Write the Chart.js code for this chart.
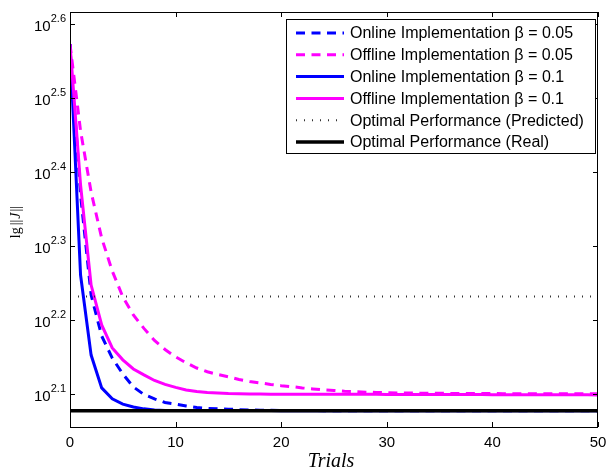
<!DOCTYPE html>
<html>
<head>
<meta charset="utf-8">
<script src="https://cdn.jsdelivr.net/npm/chart.js@4.4.1/dist/chart.umd.min.js"></script>
<style>
  html, body { margin:0; padding:0; background:#fff; }
  #wrap { width:606px; height:468px; position:relative; }
</style>
</head>
<body>
<div id="wrap"><canvas id="chart"></canvas></div>
<script>
// trial index on x, ||J|| on a log y axis
const trials = Array.from({ length: 51 }, (_, i) => i);

const onlineB005 = [
  374, 233.9, 171.3, 150.8, 140.8, 134.0, 128.7, 125.7, 124.0, 122.6,
  122.0, 121.3, 120.7, 120.4, 120.2, 120.1, 119.9, 119.8, 119.7, 119.7,
  119.6, 119.6, 119.6, 119.6, 119.5, 119.5, 119.5, 119.5, 119.5, 119.5,
  119.5, 119.5, 119.5, 119.5, 119.5, 119.5, 119.5, 119.5, 119.5, 119.5,
  119.5, 119.5, 119.5, 119.5, 119.5, 119.5, 119.5, 119.5, 119.5, 119.5,
  119.5
];
const offlineB005 = [
  374, 285.4, 236.0, 204.5, 184.6, 170.3, 161.0, 154.4, 148.7, 144.6,
  141.3, 138.7, 136.5, 134.9, 133.8, 132.8, 131.7, 130.9, 130.3, 129.7,
  129.2, 128.8, 128.3, 127.9, 127.5, 127.3, 127.0, 126.8, 126.6, 126.5,
  126.4, 126.3, 126.3, 126.2, 126.2, 126.2, 126.1, 126.1, 126.1, 126.1,
  126.1, 126.0, 126.0, 126.0, 126.0, 126.0, 126.0, 126.0, 126.0, 126.0,
  126.0
];
const onlineB01 = [
  374, 182.3, 142.1, 128.3, 124.0, 122.0, 120.9, 120.2, 119.8, 119.6,
  119.6, 119.6, 119.6, 119.6, 119.6, 119.6, 119.6, 119.6, 119.6, 119.6,
  119.5, 119.5, 119.5, 119.5, 119.5, 119.5, 119.5, 119.5, 119.5, 119.5,
  119.5, 119.5, 119.5, 119.5, 119.5, 119.5, 119.5, 119.5, 119.5, 119.5,
  119.5, 119.5, 119.5, 119.5, 119.5, 119.5, 119.5, 119.5, 119.5, 119.5,
  119.5
];
const offlineB01 = [
  374, 241.2, 176.7, 156.1, 145.3, 140.0, 136.1, 133.6, 131.3, 129.7,
  128.5, 127.5, 126.9, 126.5, 126.3, 126.1, 126.0, 125.9, 125.9, 125.8,
  125.8, 125.8, 125.8, 125.8, 125.8, 125.8, 125.8, 125.8, 125.8, 125.8,
  125.7, 125.7, 125.7, 125.7, 125.7, 125.7, 125.7, 125.7, 125.7, 125.7,
  125.6, 125.6, 125.6, 125.6, 125.6, 125.6, 125.6, 125.6, 125.6, 125.6,
  125.5
];
const optimalPredicted = 170.5;
const optimalReal = 119.5;

const xTicks = [0, 10, 20, 30, 40, 50];
const yTickExps = ['2.1', '2.2', '2.3', '2.4', '2.5', '2.6'];
const yLimits = [2.0554, 2.6162];   // log10 of axis range

const seriesLabels = [
  'Online Implementation \u03B2 = 0.05',
  'Offline Implementation \u03B2 = 0.05',
  'Online Implementation \u03B2 = 0.1',
  'Offline Implementation \u03B2 = 0.1',
  'Optimal Performance (Predicted)',
  'Optimal Performance (Real)'
];

const BLUE = '#0000ff', MAG = '#ff00ff';
const SANS = '"Liberation Sans", Arial, sans-serif';
const SERIF = '"Liberation Serif", "Times New Roman", serif';

const pts = vals => vals.map((v, i) => ({ x: trials[i], y: v }));
const flat = v => [{ x: trials[0], y: v }, { x: trials[trials.length - 1], y: v }];

function ds(label, data, color, width, dash, order) {
  return { label, data, borderColor: color, backgroundColor: color, borderWidth: width,
    borderDash: dash, borderDashOffset: 0, pointRadius: 0, tension: 0, fill: false, order };
}

const datasets = [
  ds(seriesLabels[0], pts(onlineB005), BLUE, 3, [9, 6.5], 5),
  ds(seriesLabels[1], pts(offlineB005), MAG, 3, [9, 6.5], 4),
  ds(seriesLabels[2], pts(onlineB01), BLUE, 3, [], 3),
  ds(seriesLabels[3], pts(offlineB01), MAG, 3, [], 2),
  ds(seriesLabels[4], flat(optimalPredicted), '#333', 2, [1, 7], 1),
  ds(seriesLabels[5], flat(optimalReal), '#000', 3.5, [], 0)
];

// box, inward ticks, 10^x labels, axis titles and legend, MATLAB style
const frame = {
  id: 'frame',
  afterDraw(chart) {
    const { ctx, chartArea: a, scales: { x, y } } = chart;
    ctx.save();
    ctx.strokeStyle = '#000';
    ctx.lineWidth = 1;
    ctx.strokeRect(a.left + 0.5, a.top + 0.5, a.right - a.left - 1, a.bottom - a.top);

    ctx.beginPath();
    xTicks.forEach(v => {
      const px = Math.round(x.getPixelForValue(v)) + 0.5;
      ctx.moveTo(px, a.bottom); ctx.lineTo(px, a.bottom - 5);
      ctx.moveTo(px, a.top); ctx.lineTo(px, a.top + 5);
    });
    yTickExps.forEach(e => {
      const py = Math.round(y.getPixelForValue(Math.pow(10, +e))) + 0.5;
      ctx.moveTo(a.left, py); ctx.lineTo(a.left + 5, py);
      ctx.moveTo(a.right, py); ctx.lineTo(a.right - 5, py);
    });
    ctx.stroke();

    ctx.fillStyle = '#000';
    ctx.textBaseline = 'alphabetic';
    // x tick labels
    ctx.font = '15px ' + SANS;
    ctx.textAlign = 'center';
    xTicks.forEach(v => ctx.fillText(String(v), x.getPixelForValue(v), a.bottom + 20));
    // y tick labels 10^e
    yTickExps.forEach(e => {
      const py = y.getPixelForValue(Math.pow(10, +e));
      ctx.font = '11px ' + SANS;
      ctx.textAlign = 'right';
      const ew = ctx.measureText(e).width;
      const right = a.left - 4;
      ctx.fillText(e, right, py - 2);
      ctx.font = '15px ' + SANS;
      ctx.fillText('10', right - ew, py + 7);
    });

    // x title
    ctx.font = 'italic 20px ' + SERIF;
    ctx.textAlign = 'center';
    ctx.fillText('Trials', (a.left + a.right) / 2 - 3, a.bottom + 40);

    // y title: lg ||J||
    ctx.save();
    ctx.translate(20, 222);
    ctx.rotate(-Math.PI / 2);
    const parts = [['lg', '14px ' + SERIF, 2], ['||', '14px ' + SERIF, 1], ['J', 'italic 14px ' + SERIF, 1], ['||', '14px ' + SERIF, 0]];
    let total = 0;
    parts.forEach(([t, f, g]) => { ctx.font = f; total += ctx.measureText(t).width + g; });
    let cx = -total / 2;
    ctx.textAlign = 'left';
    parts.forEach(([t, f, g]) => { ctx.font = f; ctx.fillText(t, cx, 0); cx += ctx.measureText(t).width + g; });
    ctx.restore();

    // legend
    const bx = a.right - 312, by = a.top + 7, bw = 309, bh = 134;
    ctx.fillStyle = '#fff';
    ctx.fillRect(bx, by, bw, bh);
    ctx.strokeStyle = '#000';
    ctx.lineWidth = 1;
    ctx.strokeRect(bx + 0.5, by + 0.5, bw, bh);
    ctx.font = '16px ' + SANS;
    ctx.textAlign = 'left';
    ctx.textBaseline = 'middle';
    chart.data.datasets.forEach((d, i) => {
      const ry = by + 14 + i * 21.8;
      ctx.save();
      ctx.strokeStyle = d.borderColor;
      ctx.lineWidth = d.borderWidth;
      ctx.setLineDash(d.borderDash || []);
      ctx.beginPath();
      ctx.moveTo(bx + 10, ry); ctx.lineTo(bx + 58, ry);
      ctx.stroke();
      ctx.restore();
      ctx.fillStyle = '#000';
      ctx.fillText(d.label, bx + 64, ry + 1);
    });
    ctx.restore();
  }
};

new Chart(document.getElementById('chart'), {
  type: 'line',
  data: { datasets },
  options: {
    responsive: true,
    maintainAspectRatio: false,
    animation: false,
    layout: { padding: { left: 70, right: 8, top: 12, bottom: 41 } },
    plugins: { legend: { display: false }, tooltip: { enabled: false } },
    scales: {
      x: { type: 'linear', min: 0, max: 50, display: false },
      y: { type: 'logarithmic', min: Math.pow(10, yLimits[0]), max: Math.pow(10, yLimits[1]), display: false }
    }
  },
  plugins: [frame]
});
</script>
</body>
</html>
